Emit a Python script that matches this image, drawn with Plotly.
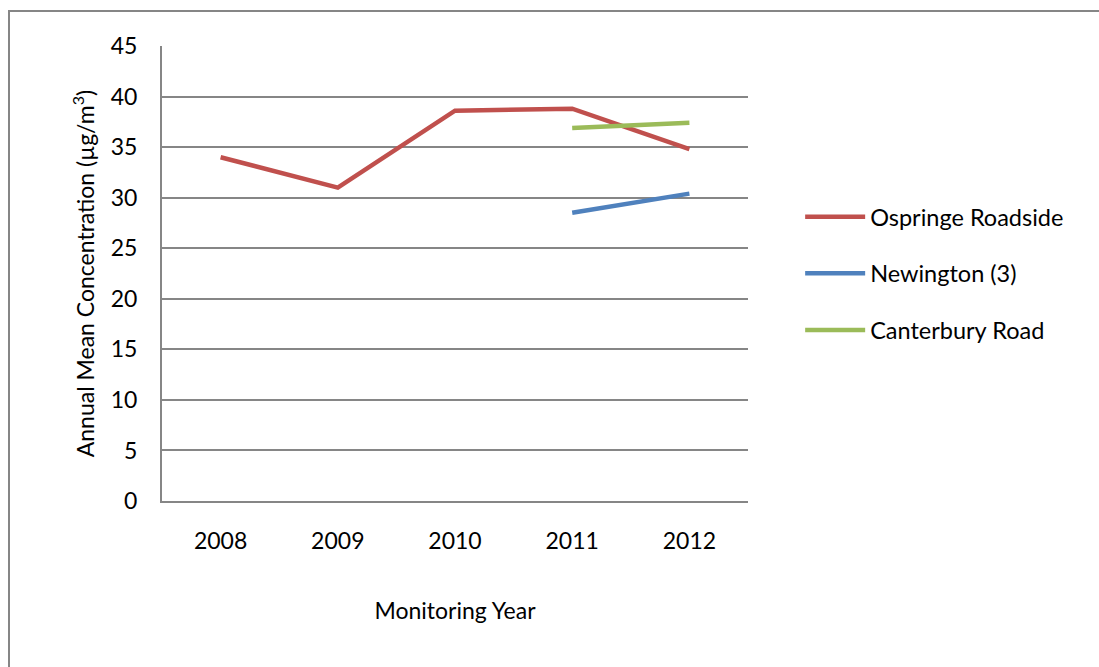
import plotly.graph_objects as go

years = ["2008", "2009", "2010", "2011", "2012"]
ospringe = [34.0, 31.0, 38.6, 38.8, 34.8]
newington = [None, None, None, 28.5, 30.4]
canterbury = [None, None, None, 36.9, 37.4]

series = [
    ("Ospringe Roadside", ospringe, "#C0504D"),
    ("Newington (3)", newington, "#4F81BD"),
    ("Canterbury Road", canterbury, "#9BBB59"),
]

FONT = "Lato, 'Open Sans', sans-serif"
GRID = "#868686"

fig = go.Figure()
for i, (name, vals, col) in enumerate(series):
    fig.add_trace(go.Scatter(
        x=years, y=vals, name=name, mode="lines",
        line=dict(color=col, width=4.5),
        legendgroup=f"g{i}", connectgaps=False,
    ))

fig.update_layout(
    width=1099, height=667,
    margin=dict(l=162, r=351, t=46, b=166),
    paper_bgcolor="white", plot_bgcolor="white",
    font=dict(family=FONT, size=23, color="black"),
    showlegend=True,
    legend=dict(x=1.089, y=0.50, xanchor="left", yanchor="middle",
                font=dict(size=23.5), tracegroupgap=23, itemwidth=60,
                bgcolor="rgba(0,0,0,0)"),
    xaxis=dict(type="category", range=[-0.5, 4.5], showgrid=False,
               showline=True, linecolor=GRID, linewidth=2, ticks="",
               ticklabelstandoff=18,
               title=dict(text="Monitoring Year", standoff=50,
                          font=dict(size=23))),
    yaxis=dict(range=[0, 45], dtick=5, showgrid=True, gridcolor=GRID,
               gridwidth=2, showline=True, linecolor=GRID, linewidth=2,
               zeroline=False, ticks="", ticklabelstandoff=18,
               title=dict(text="Annual Mean Concentration (µg/m<sup>3</sup>)",
                          standoff=10, font=dict(size=23))),
    shapes=[dict(type="rect", xref="paper", yref="paper",
                 x0=(9 - 162) / 586, x1=2.0, y0=-1.0, y1=(501 - 11) / 455,
                 line=dict(color=GRID, width=2), layer="below")],
)

fig.write_html("out.html")
